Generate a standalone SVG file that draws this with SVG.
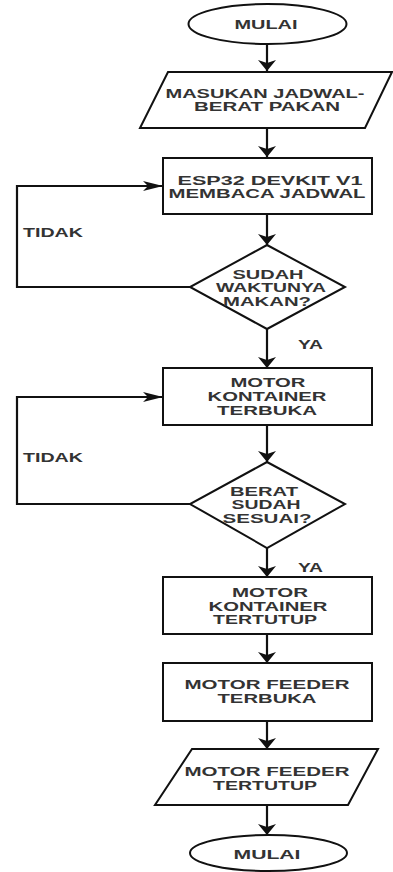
<svg xmlns="http://www.w3.org/2000/svg" width="393" height="872" viewBox="0 0 393 872">
<style>
.s{fill:#fff;stroke:#111;stroke-width:2}
.c{fill:none;stroke:#111;stroke-width:2.2}
text{font-family:"Liberation Sans",Arial,sans-serif;font-weight:bold;font-size:12.5px;fill:#333;text-anchor:middle}
.l{text-anchor:start}
</style>
<defs>
<marker id="ad" markerUnits="userSpaceOnUse" markerWidth="12" markerHeight="18" refX="11" refY="9" orient="auto" viewBox="0 0 12 18"><path d="M0,0 L11,9 L0,18 L3,9 z" fill="#111"/></marker>
<marker id="ar" markerUnits="userSpaceOnUse" markerWidth="20" markerHeight="10" refX="20" refY="5" orient="auto" viewBox="0 0 20 10"><path d="M0,0 L20,5 L0,10 L5,5 z" fill="#111"/></marker>
</defs>
<g id="connectors">
<line class="c" x1="267" y1="44" x2="267" y2="71" marker-end="url(#ad)"/>
<line class="c" x1="267" y1="128" x2="267" y2="157" marker-end="url(#ad)"/>
<line class="c" x1="267" y1="214" x2="267" y2="245" marker-end="url(#ad)"/>
<line class="c" x1="267" y1="329" x2="267" y2="368" marker-end="url(#ad)"/>
<line class="c" x1="267" y1="425" x2="267" y2="462" marker-end="url(#ad)"/>
<line class="c" x1="267" y1="548" x2="267" y2="577" marker-end="url(#ad)"/>
<line class="c" x1="267" y1="634" x2="267" y2="663" marker-end="url(#ad)"/>
<line class="c" x1="267" y1="721" x2="267" y2="749" marker-end="url(#ad)"/>
<line class="c" x1="267" y1="805" x2="267" y2="835" marker-end="url(#ad)"/>
<polyline class="c" points="190,287 17,287 17,186 163,186" marker-end="url(#ar)"/>
<polyline class="c" points="190,504 17,504 17,397 163,397" marker-end="url(#ar)"/>
<text class="l" x="23" y="237" textLength="60" lengthAdjust="spacingAndGlyphs">TIDAK</text>
<text class="l" x="23" y="462" textLength="60" lengthAdjust="spacingAndGlyphs">TIDAK</text>
<text class="l" x="298" y="348.5" textLength="25" lengthAdjust="spacingAndGlyphs">YA</text>
<text class="l" x="298" y="571.5" textLength="25" lengthAdjust="spacingAndGlyphs">YA</text>
</g>
<g id="start">
<ellipse class="s" cx="267.5" cy="24" rx="79" ry="20"/>
<text x="266" y="28.5" textLength="63" lengthAdjust="spacingAndGlyphs">MULAI</text>
</g>
<g id="input">
<polygon class="s" points="168,72 392,72 365,128 140,128"/>
<text x="265" y="97.5" textLength="199" lengthAdjust="spacingAndGlyphs">MASUKAN JADWAL-</text>
<text x="267" y="111" textLength="146" lengthAdjust="spacingAndGlyphs">BERAT PAKAN</text>
</g>
<g id="read">
<rect class="s" x="163" y="158" width="209" height="56"/>
<text x="270" y="184.5" textLength="185" lengthAdjust="spacingAndGlyphs">ESP32 DEVKIT V1</text>
<text x="267" y="198" textLength="197" lengthAdjust="spacingAndGlyphs">MEMBACA JADWAL</text>
</g>
<g id="decision1">
<polygon class="s" points="267,245 345,287 267,329 190,287"/>
<text x="268" y="279" textLength="71" lengthAdjust="spacingAndGlyphs">SUDAH</text>
<text x="271" y="292" textLength="110" lengthAdjust="spacingAndGlyphs">WAKTUNYA</text>
<text x="267" y="305.5" textLength="88" lengthAdjust="spacingAndGlyphs">MAKAN?</text>
</g>
<g id="open-container">
<rect class="s" x="163" y="368" width="209" height="57"/>
<text x="268" y="386.5" textLength="75" lengthAdjust="spacingAndGlyphs">MOTOR</text>
<text x="267" y="400.5" textLength="119" lengthAdjust="spacingAndGlyphs">KONTAINER</text>
<text x="267" y="414.5" textLength="100" lengthAdjust="spacingAndGlyphs">TERBUKA</text>
</g>
<g id="decision2">
<polygon class="s" points="267,462 345,504 267,548 190,504"/>
<text x="264" y="495.5" textLength="68" lengthAdjust="spacingAndGlyphs">BERAT</text>
<text x="266" y="508.5" textLength="69" lengthAdjust="spacingAndGlyphs">SUDAH</text>
<text x="267" y="522.5" textLength="89" lengthAdjust="spacingAndGlyphs">SESUAI?</text>
</g>
<g id="close-container">
<rect class="s" x="163" y="577" width="209" height="57"/>
<text x="270" y="596.5" textLength="76" lengthAdjust="spacingAndGlyphs">MOTOR</text>
<text x="268" y="610.5" textLength="119" lengthAdjust="spacingAndGlyphs">KONTAINER</text>
<text x="265" y="623.5" textLength="104" lengthAdjust="spacingAndGlyphs">TERTUTUP</text>
</g>
<g id="open-feeder">
<rect class="s" x="163" y="663" width="209" height="58"/>
<text x="267" y="689" textLength="165" lengthAdjust="spacingAndGlyphs">MOTOR FEEDER</text>
<text x="267" y="703" textLength="99" lengthAdjust="spacingAndGlyphs">TERBUKA</text>
</g>
<g id="close-feeder">
<polygon class="s" points="192,749 378,749 348,805 155,805"/>
<text x="267" y="775.5" textLength="165" lengthAdjust="spacingAndGlyphs">MOTOR FEEDER</text>
<text x="265" y="789.5" textLength="104" lengthAdjust="spacingAndGlyphs">TERTUTUP</text>
</g>
<g id="end">
<ellipse class="s" cx="268.5" cy="853" rx="78.5" ry="18"/>
<text x="267" y="858.5" textLength="67" lengthAdjust="spacingAndGlyphs">MULAI</text>
</g>
</svg>
